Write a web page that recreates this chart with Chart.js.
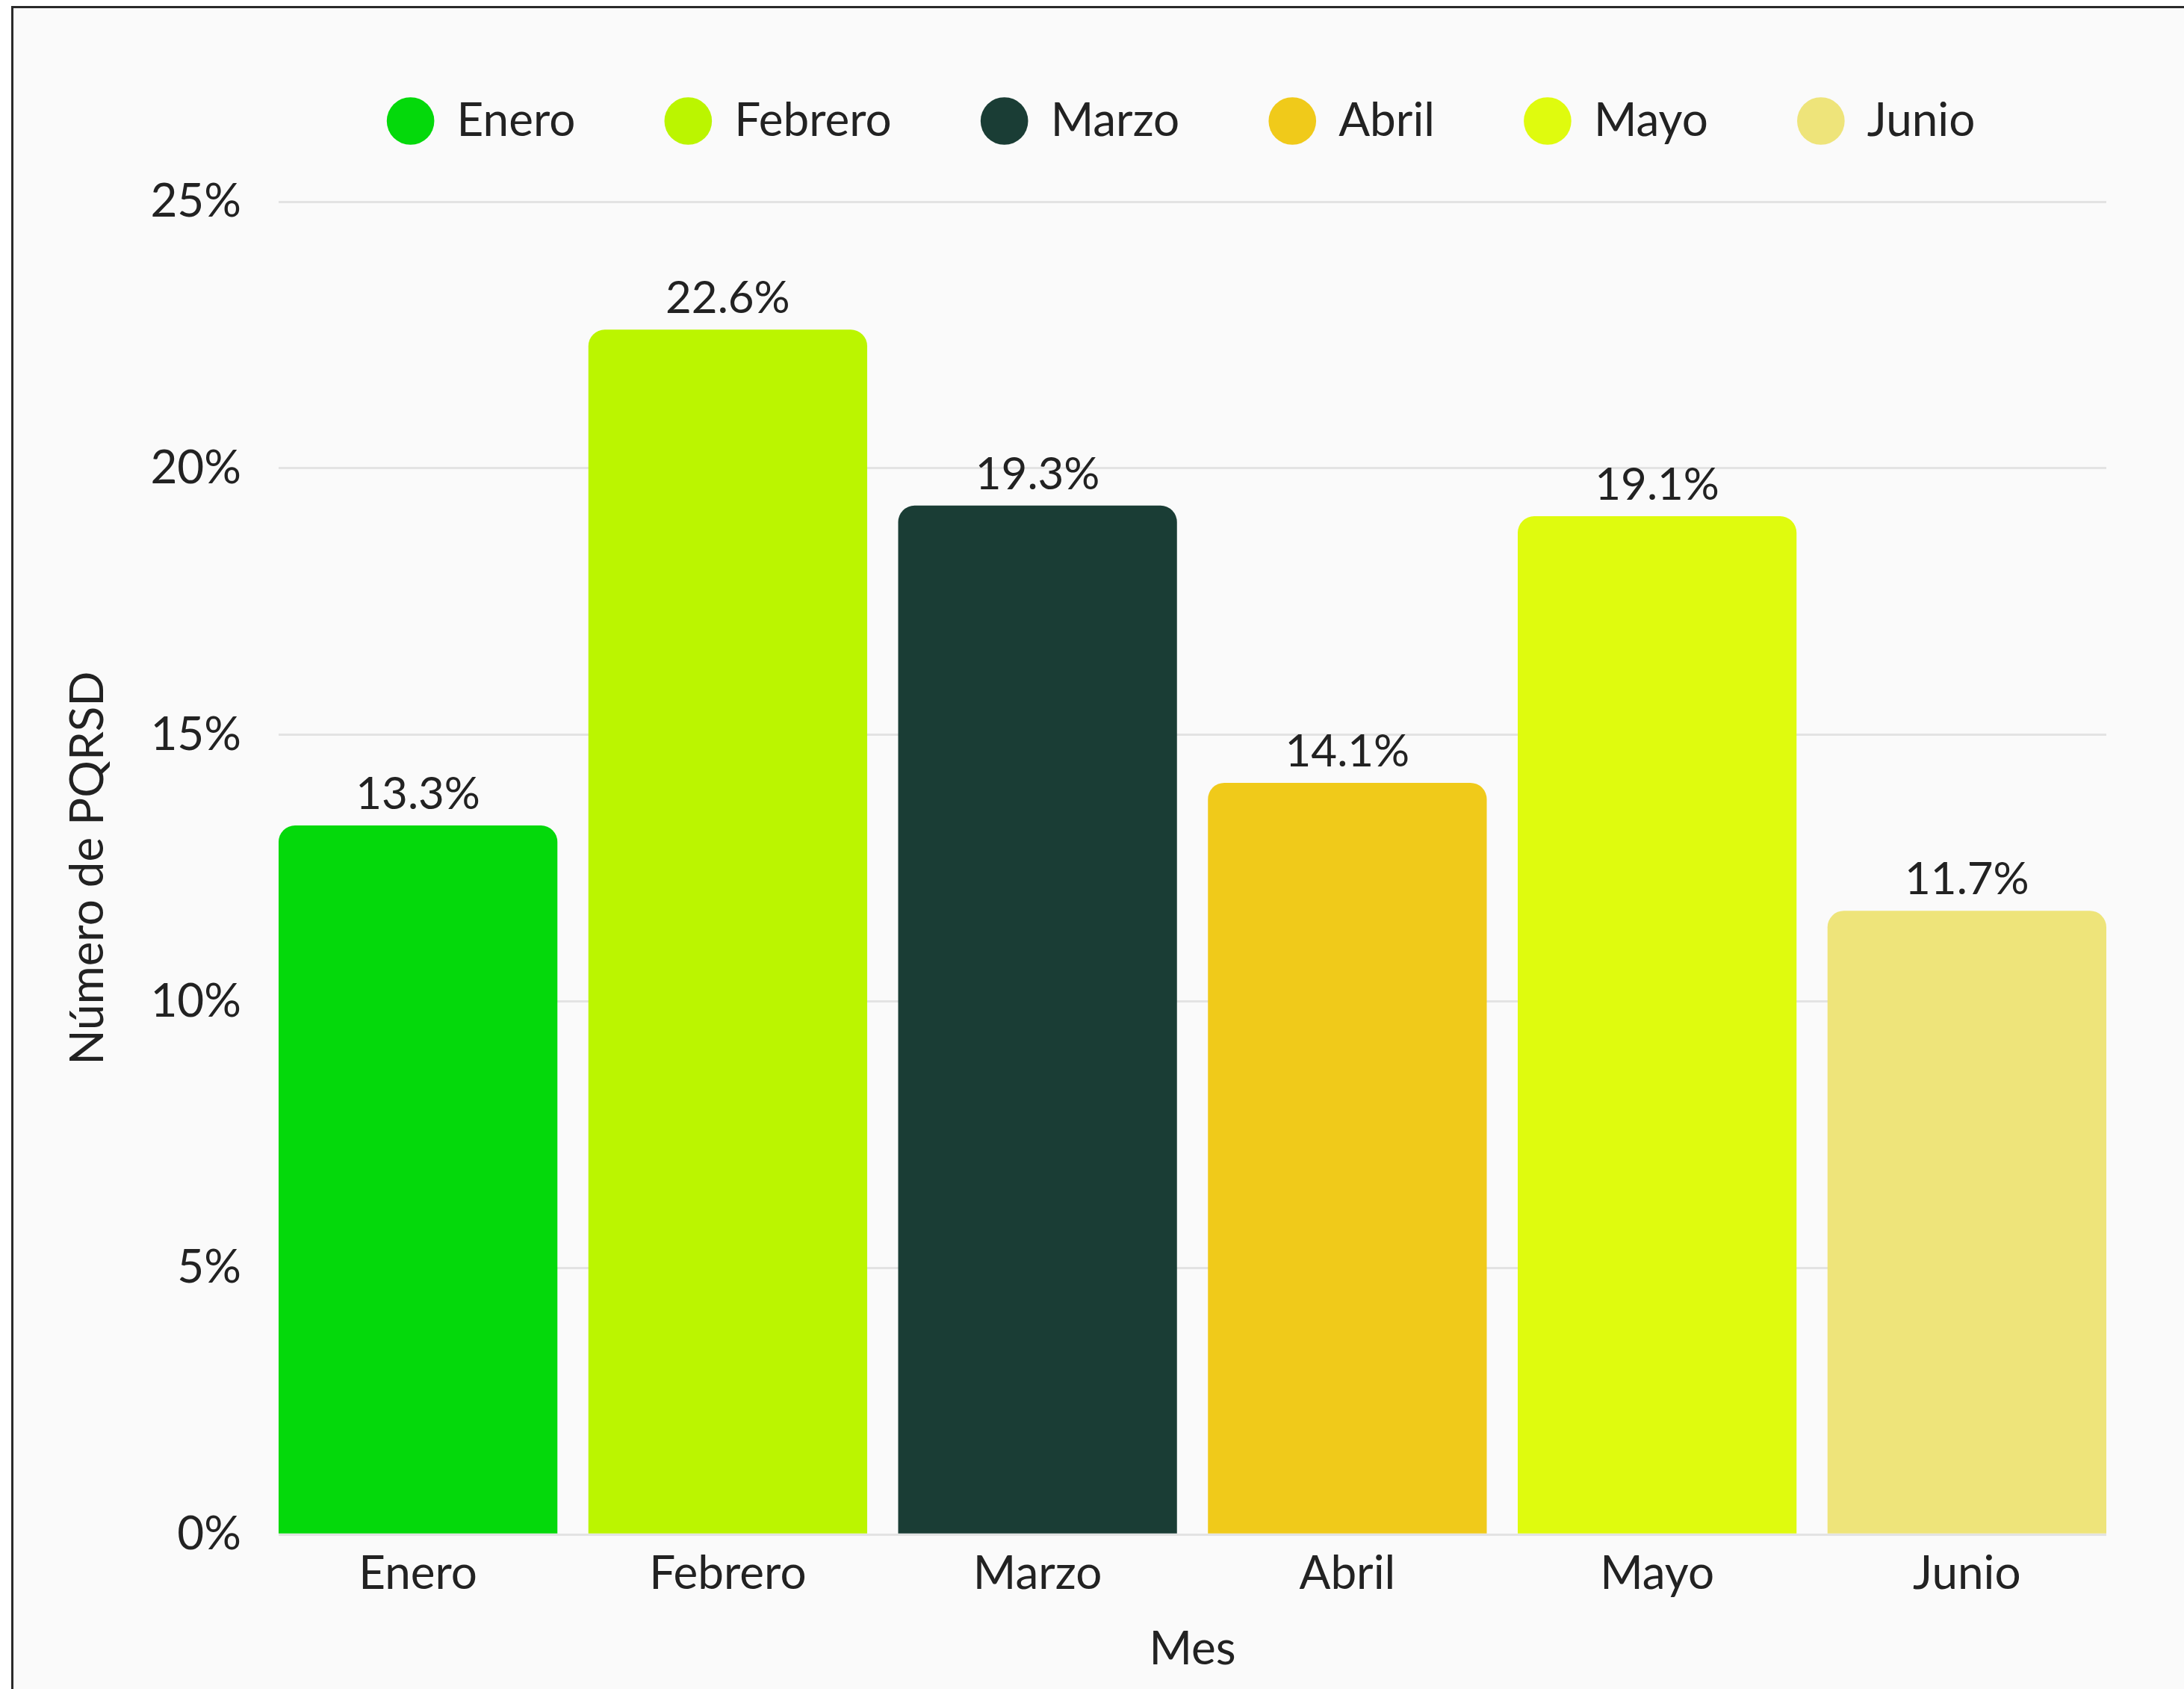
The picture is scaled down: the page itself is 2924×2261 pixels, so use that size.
<!DOCTYPE html>
<html>
<head>
<meta charset="utf-8">
<script src="https://cdn.jsdelivr.net/npm/chart.js@4.4.1/dist/chart.umd.min.js"></script>
<style>
  html, body { margin: 0; padding: 0; background: #ffffff; overflow: hidden; }
  #card {
    position: absolute; left: 15px; top: 8px; width: 3000px; height: 2400px;
    border-left: 3px solid #2a2a2a; border-top: 3px solid #2a2a2a;
    background: #fafafa;
  }
  #wrap { position: absolute; left: 0; top: 0; width: 2924px; height: 2261px; }
</style>
</head>
<body>
<div id="card"></div>
<div id="wrap"><canvas id="barCanvas"></canvas></div>
<script>
var meses = ['Enero', 'Febrero', 'Marzo', 'Abril', 'Mayo', 'Junio'];
var porcentajes = [13.3, 22.6, 19.3, 14.1, 19.1, 11.7];
var colores = ['#04d90b', '#bbf500', '#1a3d35', '#f0ca1a', '#dffb0e', '#eee47a'];
var ticksY = [0, 5, 10, 15, 20, 25];

var textColor = '#222222';
Chart.defaults.font.family = 'Lato, "Open Sans", sans-serif';

// etiquetas con el valor encima de cada barra
var valueLabels = {
  id: 'valueLabels',
  afterDatasetsDraw: function (chart) {
    var ctx = chart.ctx;
    var meta = chart.getDatasetMeta(0);
    ctx.save();
    ctx.font = '60px Lato, "Open Sans", sans-serif';
    ctx.fillStyle = textColor;
    ctx.textAlign = 'center';
    ctx.textBaseline = 'alphabetic';
    meta.data.forEach(function (bar, i) {
      ctx.fillText(porcentajes[i].toFixed(1) + '%', bar.x, bar.y - 22);
    });
    ctx.restore();
  }
};

// espacio extra debajo de la leyenda y pequeño corrimiento a la izquierda
var legendSpacing = {
  id: 'legendSpacing',
  beforeLayout: function (chart) {
    if (chart.legend && !chart.legend._patched) {
      var fit = chart.legend.fit;
      chart.legend.fit = function () {
        fit.call(this);
        this.height += 67;
      };
      chart.legend._patched = true;
    }
  },
  afterLayout: function (chart) {
    if (chart.legend) {
      chart.legend.left -= 15;
      chart.legend.right -= 15;
    }
  }
};

function barChartMethod() {
  this.barChart = new Chart(document.getElementById('barCanvas').getContext('2d'), {
    type: 'bar',
    data: {
      datasets: [{
        label: 'PQRSD',
        data: porcentajes.map(function (v, i) { return { x: i, y: v }; }),
        backgroundColor: colores,
        borderWidth: 0,
        borderRadius: { topLeft: 22, topRight: 22, bottomLeft: 0, bottomRight: 0 },
        borderSkipped: false,
        barPercentage: 0.9,
        categoryPercentage: 1.0
      }]
    },
    options: {
      responsive: true,
      maintainAspectRatio: false,
      animation: false,
      layout: { padding: { left: 81, right: 104, top: 11, bottom: 16 } },
      plugins: {
        tooltip: { enabled: false },
        legend: {
          position: 'top',
          fullSize: false,
          labels: {
            usePointStyle: true,
            pointStyle: 'circle',
            boxWidth: 62,
            boxHeight: 45,
            padding: 120,
            color: textColor,
            font: { size: 62 },
            generateLabels: function () {
              return meses.map(function (m, i) {
                return {
                  text: m,
                  fillStyle: colores[i],
                  strokeStyle: colores[i],
                  lineWidth: 0,
                  pointStyle: 'circle',
                  fontColor: textColor,
                  hidden: false,
                  index: i,
                  datasetIndex: 0
                };
              });
            }
          }
        }
      },
      scales: {
        x: {
          type: 'linear',
          min: -0.45,
          max: 5.45,
          bounds: 'data',
          offset: false,
          afterBuildTicks: function (scale) {
            scale.ticks = meses.map(function (m, i) { return { value: i }; });
          },
          grid: { display: false, drawTicks: false, offset: false },
          border: { display: false },
          ticks: {
            autoSkip: false,
            maxRotation: 0,
            padding: 16,
            color: textColor,
            font: { size: 62 },
            callback: function (v) { return meses[Math.round(v)]; }
          },
          title: {
            display: true,
            text: 'Mes',
            color: textColor,
            font: { size: 62 },
            padding: { top: 10, bottom: 0 }
          }
        },
        y: {
          min: ticksY[0],
          max: ticksY[ticksY.length - 1],
          afterFit: function (scale) { scale.width = 292; },
          grid: { color: '#e3e3e3', lineWidth: 3, drawTicks: false },
          border: { display: false },
          ticks: {
            stepSize: 5,
            padding: 50,
            color: textColor,
            font: { size: 62 },
            callback: function (v) { return v + '%'; }
          },
          title: {
            display: true,
            text: 'Número de PQRSD',
            color: textColor,
            font: { size: 62 },
            padding: { top: 0, bottom: 0 }
          }
        }
      }
    },
    plugins: [valueLabels, legendSpacing]
  });
}

document.addEventListener('DOMContentLoaded', function () {
  barChartMethod();
});
</script>
</body>
</html>
